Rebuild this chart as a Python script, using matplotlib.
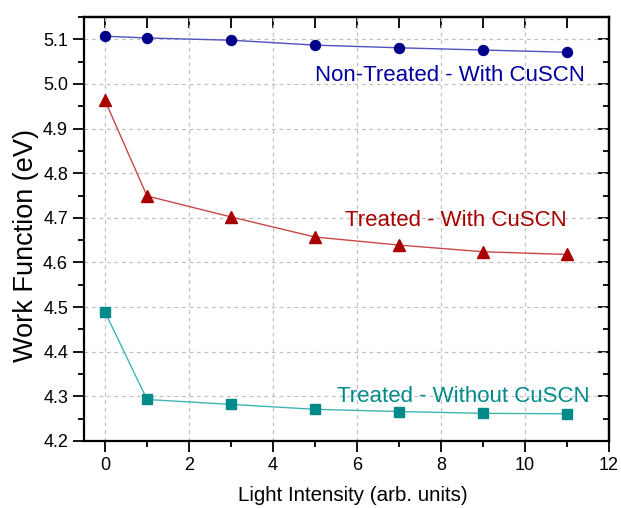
import matplotlib

matplotlib.use('Agg')

import matplotlib.pyplot as plt
from matplotlib.ticker import MultipleLocator

plt.rcParams['font.family'] = ['Liberation Sans', 'DejaVu Sans']

# light intensity (arb. units)
intensity = [0, 1, 3, 5, 7, 9, 11]

# work function (eV) for each sample
non_treated_cuscn = [5.107, 5.103, 5.098, 5.087, 5.081, 5.076, 5.071]
treated_cuscn = [4.963, 4.749, 4.702, 4.657, 4.639, 4.624, 4.618]
treated_no_cuscn = [4.489, 4.293, 4.282, 4.271, 4.266, 4.262, 4.261]

labels = ['Non-Treated - With CuSCN', 'Treated - With CuSCN', 'Treated - Without CuSCN']


def main():
    fig = plt.figure(figsize=(6.21, 5.08), dpi=100)
    ax = fig.add_axes([84 / 621, 1 - 441 / 508, (609 - 84) / 621, (441 - 17) / 508])

    ax.plot(intensity, non_treated_cuscn, '-o', color='#5050c0', mfc='#00008b',
            mec='#00008b', ms=7.2, lw=1, zorder=3)
    ax.plot(intensity, treated_cuscn, '-^', color='#c84848', mfc='#a80000',
            mec='#a80000', ms=9, lw=1, zorder=3)
    ax.plot(intensity, treated_no_cuscn, '-s', color='#40b4b4', mfc='#008b8b',
            mec='#008b8b', ms=6.5, lw=1, zorder=3)

    # series labels placed next to the curves
    ax.text(8.22, 5.019, labels[0], color='#0000a0', fontsize=16,
            ha='center', va='center')
    ax.text(8.35, 4.695, labels[1], color='#a80000', fontsize=16,
            ha='center', va='center')
    ax.text(8.52, 4.300, labels[2], color='#008b8b', fontsize=16,
            ha='center', va='center')

    ax.set_xlim(-0.5, 12)
    ax.set_ylim(4.2, 5.15)
    ax.xaxis.set_major_locator(MultipleLocator(2))
    ax.xaxis.set_minor_locator(MultipleLocator(1))
    ax.yaxis.set_major_locator(MultipleLocator(0.1))
    ax.yaxis.set_minor_locator(MultipleLocator(0.05))

    ax.grid(True, which='major', color='#c0c0c0', ls=(0, (3, 3)), lw=0.9)
    ax.set_axisbelow(True)

    ax.tick_params(which='both', direction='out', labelsize=13, width=1.3,
                   top=False, right=False)
    ax.tick_params(which='major', length=8)
    ax.tick_params(which='minor', length=4)

    sec_x = ax.secondary_xaxis('top')
    sec_x.xaxis.set_major_locator(MultipleLocator(2))
    sec_x.xaxis.set_minor_locator(MultipleLocator(1))
    sec_x.tick_params(which='both', direction='in', labeltop=False, width=1.3)
    sec_x.tick_params(which='major', length=8)
    sec_x.tick_params(which='minor', length=8)
    sec_x.spines['top'].set_linewidth(1.6)

    sec_y = ax.secondary_yaxis('right')
    sec_y.yaxis.set_major_locator(MultipleLocator(0.1))
    sec_y.yaxis.set_minor_locator(MultipleLocator(0.05))
    sec_y.tick_params(which='both', direction='in', labelright=False, width=1.3)
    sec_y.tick_params(which='major', length=8)
    sec_y.tick_params(which='minor', length=4)
    sec_y.spines['right'].set_linewidth(1.6)

    for s in ax.spines.values():
        s.set_linewidth(1.6)

    ax.set_yticks([4.2, 4.3, 4.4, 4.5, 4.6, 4.7, 4.8, 4.9, 5.0, 5.1])
    ax.set_yticklabels(['4.2', '4.3', '4.4', '4.5', '4.6', '4.7', '4.8', '4.9', '5.0', '5.1'])

    ax.set_xlabel('Light Intensity (arb. units)', fontsize=14.8)
    ax.set_ylabel('Work Function (eV)', fontsize=19.5)
    ax.xaxis.set_label_coords(0.512, -0.106)
    ax.yaxis.set_label_coords(-0.086, 0.462)

    fig.savefig('out.png', dpi=100)


if __name__ == "__main__":
    main()
